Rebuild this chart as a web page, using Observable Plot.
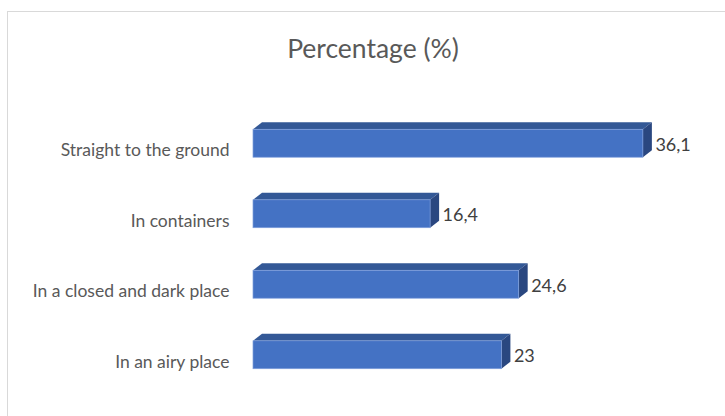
<!DOCTYPE html>
<html>
<head>
<meta charset="utf-8">
<script src="https://cdn.jsdelivr.net/npm/d3@7"></script>
<script src="https://cdn.jsdelivr.net/npm/@observablehq/plot@0.6"></script>
<style>
  body { margin: 0; background: #fff; }
  #wrap { position: relative; width: 725px; height: 416px; overflow: hidden; font-family: Lato, "Open Sans", sans-serif; }
  #frame { position: absolute; left: 7px; top: 11px; width: 800px; height: 500px; border: 1px solid #D9D9D9; box-sizing: border-box; }
  #title { position: absolute; left: 0; width: 746px; top: 33px; line-height: 30px; text-align: center; font-size: 26.5px; color: #595959; }
  #chart { position: absolute; left: 0; top: 0; }
</style>
</head>
<body>
<div id="wrap">
  <div id="frame"></div>
  <div id="title">Percentage (%)</div>
  <div id="chart"></div>
</div>
<script>
const categories = ["Straight to the ground", "In containers", "In a closed and dark place", "In an airy place"];
const values = [36.1, 16.4, 24.6, 23];

const data = categories.map((c, i) => ({category: c, value: values[i]}));
const fmt = v => String(v).replace(".", ",");
const DX = 9, DY = -7;

function faces(index, scales) {
  const x = scales.x, y = scales.y;
  const bw = y.bandwidth();
  const g = d3.create("svg:g");
  for (const d of data) {
    const x0 = x(0), x1 = x(d.value), y0 = y(d.category), y1 = y0 + bw;
    g.append("polygon")
      .attr("points", [[x0, y0], [x0 + DX, y0 + DY], [x1 + DX, y0 + DY], [x1, y0]].map(p => p.join(",")).join(" "))
      .attr("fill", "#335896");
    g.append("polygon")
      .attr("points", [[x1, y0], [x1 + DX, y0 + DY], [x1 + DX, y1 + DY], [x1, y1]].map(p => p.join(",")).join(" "))
      .attr("fill", "#2A4780");
  }
  return g.node();
}

const chart = Plot.plot({
  width: 725,
  height: 416,
  marginLeft: 253,
  marginRight: 40,
  marginTop: 108,
  marginBottom: 26,
  style: {background: "transparent", fontFamily: "Lato, 'Open Sans', sans-serif"},
  x: {domain: [0, 40], axis: null},
  y: {domain: categories, axis: null, paddingInner: 0.604, paddingOuter: 0.302, round: false},
  marks: [
    faces,
    Plot.barX(data, {x: "value", y: "category", fill: "#4472C4", stroke: "#7E9EDB", strokeWidth: 0.7}),
    Plot.text(data, {x: "value", y: "category", text: d => fmt(d.value), textAnchor: "start", dx: DX + 3, dy: 1, fill: "#404040", fontSize: 18}),
    Plot.text(data, {y: "category", frameAnchor: "left", text: "category", textAnchor: "end", dx: -24, dy: 7, fill: "#595959", fontSize: 17.5})
  ]
});
document.getElementById("chart").appendChild(chart);
</script>
</body>
</html>
